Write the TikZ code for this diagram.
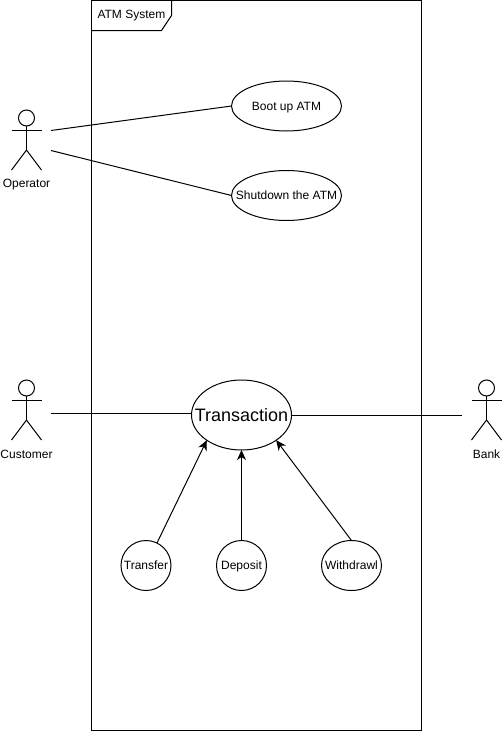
\documentclass[tikz,border=0pt]{standalone}
\usepackage{fontspec}
\setmainfont{Liberation Sans}
\usetikzlibrary{arrows.meta,positioning,shapes.geometric}
% zero size text, so that only the minimum sizes set the ellipses
\newcommand{\casetext}[1]{\makebox[0pt]{\raisebox{-0.36em}[0pt][0pt]{#1}}}

\begin{document}
\begin{tikzpicture}
    [x=1pt, y=-1pt, line width=1pt,
    small_text/.style={font=\fontsize{12}{14}\selectfont, inner sep=0pt},
    use_case/.style={draw, ellipse, small_text, outer sep=0pt},
    actor_label/.style={small_text, anchor=center},
    head_arrow/.style={-{Stealth[length=10pt, width=9pt, inset=3pt]}}]
    \useasboundingbox (0, 0) rectangle (502, 731);
    % system frame
    \draw (91.5, 0.5) rectangle (421.5, 730.5);
    \draw (91.5, 30.5) -- (161.5, 30.5) -- (171.5, 15.5) -- (171.5, 0.5);
    \node[small_text, anchor=west] (system_label) at (97, 15.5) {ATM System};
    % actors
    \foreach \x/\y/\name/\text in {26.5/118/operator/Operator, 26.5/388/customer/Customer, 486.5/388/bank/Bank} {
        \draw (\x, \y) circle (8);
        \draw (\x, \y+8) -- (\x, \y+32);
        \draw (\x-15, \y+12) -- (\x+15, \y+12);
        \draw (\x-15, \y+52) -- (\x, \y+32) -- (\x+15, \y+52);
        \node[actor_label] (\name) at (\x, \y+66.5) {\text};
    }
    % use cases
    \node[use_case, minimum width=110pt, minimum height=50pt] (boot) at (286.5, 106) {\casetext{Boot up ATM}};
    \node[use_case, minimum width=110pt, minimum height=50pt] (shutdown) at (286.5, 195.5) {\casetext{Shutdown the ATM}};
    \node[use_case, minimum width=100pt, minimum height=70pt, font=\fontsize{18}{20}\selectfont] (transaction) at (241.5, 415) {\casetext{Transaction}};
    \node[use_case, minimum width=50pt, minimum height=50pt] (transfer) at (146, 565.5) {\casetext{Transfer}};
    \node[use_case, minimum width=50pt, minimum height=50pt] (deposit) at (241.5, 565.5) {\casetext{Deposit}};
    \node[use_case, minimum width=60pt, minimum height=50pt] (withdrawl) at (351.5, 565.5) {\casetext{Withdrawl}};
    % free ends beside the actors
    \coordinate (operator_top) at (51, 130.5);
    \coordinate (operator_low) at (51, 150.5);
    \coordinate (customer_end) at (51, 413.5);
    \coordinate (bank_end) at (461.5, 415);
    % connectors
    \draw (operator_top) -- (boot.west);
    \draw (operator_low) -- (shutdown.west);
    \draw (customer_end) -- (customer_end -| transaction.west);
    \draw (transaction.east) -- (bank_end);
    \draw[head_arrow] (transfer.64) -- (transaction.216);
    \draw[head_arrow] (deposit.north) -- (transaction.south);
    \draw[head_arrow] (withdrawl.90) -- (transaction.324);
\end{tikzpicture}
\end{document}
